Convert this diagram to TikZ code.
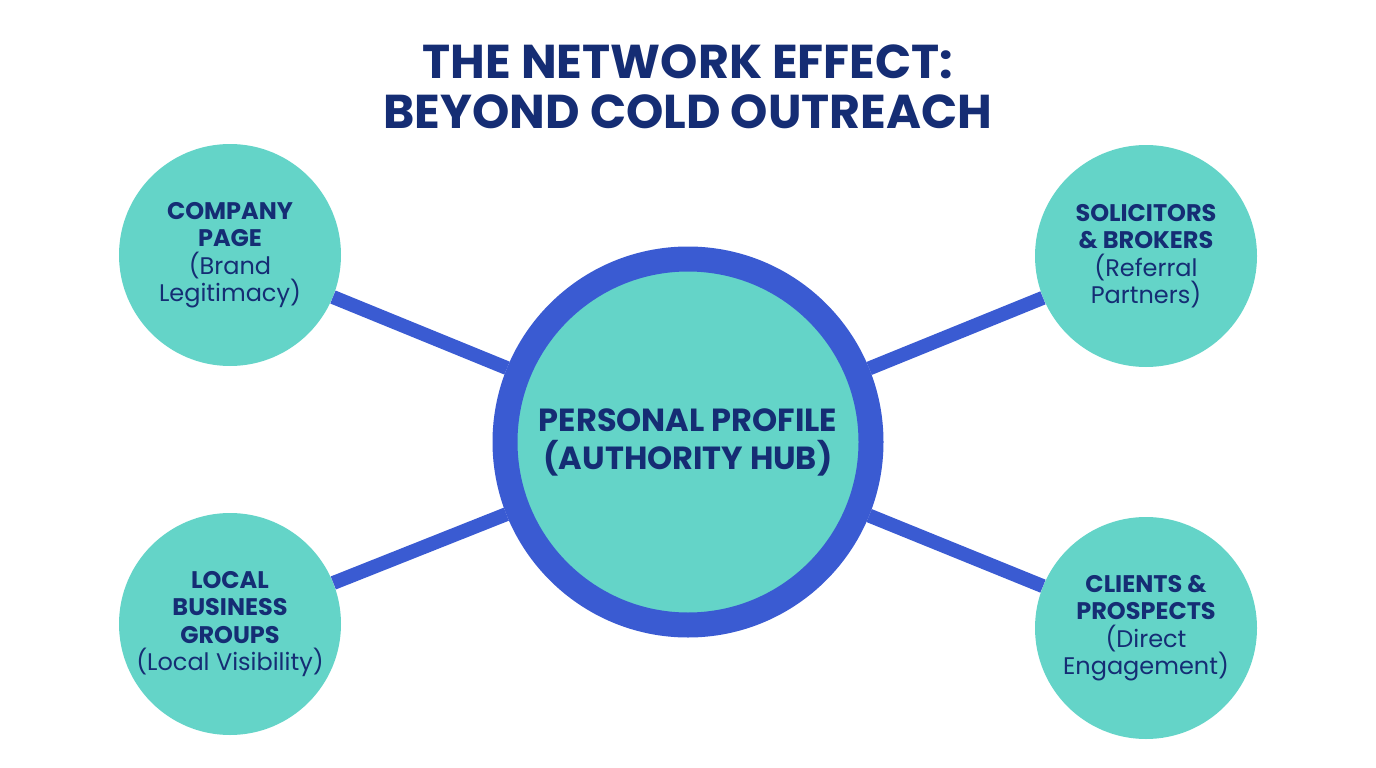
\documentclass[tikz,border=0pt]{standalone}
\usepackage{fontspec}
\setmainfont{Poppins}
\usepackage{tikz}
\usetikzlibrary{positioning}
\usepackage{xcolor}
\definecolor{mintfill}{HTML}{64D4C8}
\definecolor{hubblue}{HTML}{3A5BD2}
\definecolor{navytext}{HTML}{152D74}
\newcommand{\hd}[1]{{\bfseries #1}}
\tikzset{
  hub/.style={circle, draw=hubblue, line width=25pt, fill=mintfill,
              inner sep=0pt, minimum size=366pt, align=center,
              text=navytext, font=\fontsize{32}{38}\selectfont\bfseries},
  spoke/.style={circle, fill=mintfill, inner sep=0pt, minimum size=222pt,
                align=center, text=navytext, font=\fontsize{24}{27.5}\selectfont},
  link/.style={draw=hubblue, line width=14pt},
  heading/.style={align=center, text=navytext,
                  font=\fontsize{47.5}{50}\selectfont\bfseries},
}
\begin{document}
\begin{tikzpicture}[x=1pt, y=-1pt]
    \useasboundingbox (0,0) rectangle (1376,768);
    \node[heading] (title) at (688,87) {THE NETWORK EFFECT:\\BEYOND COLD OUTREACH};
    % Circles
    \node[hub]   (hub) at (688,442) {PERSONAL PROFILE\\(AUTHORITY HUB)};
    \node[spoke] (cp)  at (230,255) {\hd{COMPANY}\\\hd{PAGE}\\(Brand\\Legitimacy)};
    \node[spoke] (sb)  at (1146,256) {\hd{SOLICITORS}\\\hd{\& BROKERS}\\(Referral\\Partners)};
    \node[spoke] (lb)  at (230,624) {\hd{LOCAL}\\\hd{BUSINESS}\\\hd{GROUPS}\\(Local Visibility)};
    \node[spoke] (cl)  at (1146,628) {\hd{CLIENTS \&}\\\hd{PROSPECTS}\\(Direct\\Engagement)};
    % Links
    \draw[link] (cp) -- (hub);
    \draw[link] (sb) -- (hub);
    \draw[link] (lb) -- (hub);
    \draw[link] (cl) -- (hub);
  \end{tikzpicture}
\end{document}
